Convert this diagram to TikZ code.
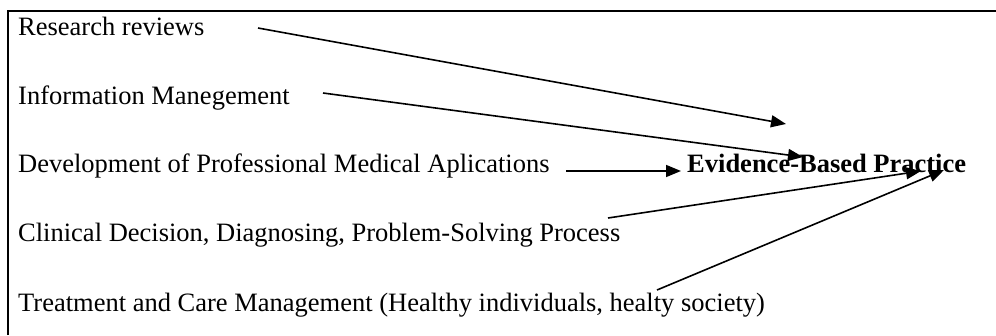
\documentclass[tikz,border=0pt]{standalone}
\usepackage{fontspec}
\setmainfont{Liberation Serif}
\usetikzlibrary{arrows.meta}
\tikzset{
  item/.style={anchor=base west, inner sep=0pt, font=\fontsize{26.5}{30}\selectfont},
  ebp/.style={anchor=base west, inner sep=0pt, font=\fontsize{26.5}{30}\selectfont\bfseries},
  arr/.style={line width=1.6pt, -{Triangle[length=15pt,width=12pt]}},
  frame/.style={line width=2pt}
}
\begin{document}
\begin{tikzpicture}[x=1pt,y=-1pt]
\useasboundingbox (0,0) rectangle (996,335);
\draw[frame] (8,335) -- (8,11) -- (996,11);
\node[item] (rr) at (18,35) {Research reviews};
\node[item] (im) at (18,104) {Information Manegement};
\node[item] (dev) at (18,172) {Development of Professional Medical Aplications};
\node[item] (cd) at (18,241) {Clinical Decision, Diagnosing, Problem-Solving Process};
\node[item] (tc) at (18,311) {Treatment and Care Management (Healthy individuals, healty society)};
\node[ebp] (ebp) at (687,172) {Evidence-Based Practice};
\coordinate (s1) at (258,28);
\coordinate (e1) at (786,124);
\coordinate (s2) at (323,93);
\coordinate (e2) at (803,157);
\coordinate (s3) at (566,171);
\coordinate (s4) at (608,218);
\coordinate (e4) at (921,171);
\coordinate (s5) at (657,290);
\coordinate (e5) at (944,170);
\draw[arr] (s1) -- (e1);
\draw[arr] (s2) -- (e2);
\draw[arr, shorten >=6pt] (s3) -- (ebp.west |- s3);
\draw[arr] (s4) -- (e4);
\draw[arr] (s5) -- (e5);
\end{tikzpicture}
\end{document}
